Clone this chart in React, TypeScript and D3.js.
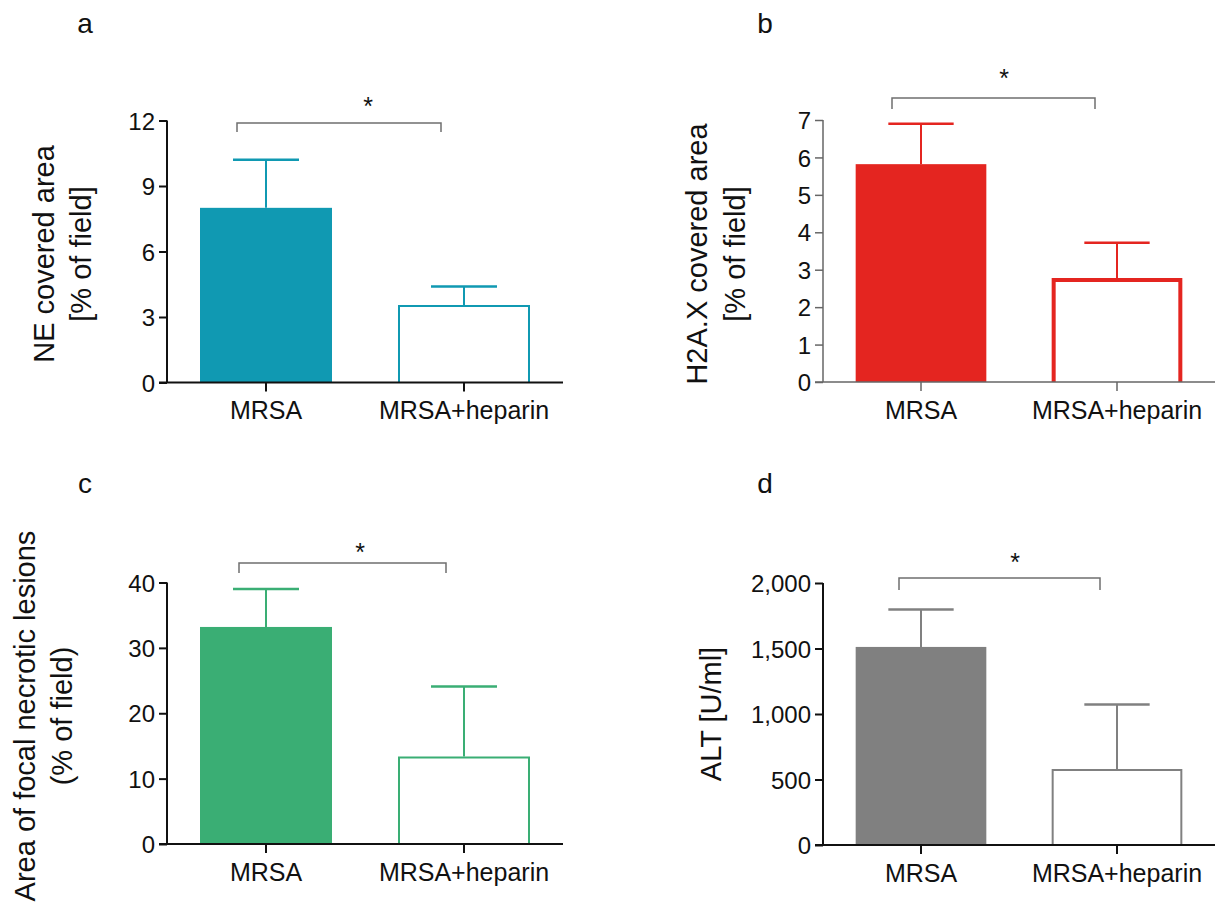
import React, { useEffect, useRef } from "react";
import * as d3 from "d3";

// groups
const categories = ["MRSA", "MRSA+heparin"];

// a: NE covered area
const neMean = [8.0, 3.55];
const neSem = [2.2, 0.85];
const neTicks = [0, 3, 6, 9, 12];

// b: H2A.X covered area
const h2axMean = [5.82, 2.78];
const h2axSem = [1.08, 0.94];
const h2axTicks = [0, 1, 2, 3, 4, 5, 6, 7];

// c: focal necrotic lesions
const necMean = [33.2, 13.4];
const necSem = [5.8, 10.7];
const necTicks = [0, 10, 20, 30, 40];

// d: ALT
const altMean = [1512, 580];
const altSem = [285, 493];
const altTicks = [0, 500, 1000, 1500, 2000];

const FONT = "'Liberation Sans', Arial, Helvetica, sans-serif";

const panels = [
  {
    key: "a", mean: neMean, sem: neSem, ticks: neTicks, fmt: d3.format("d"),
    color: "#1099b2", outline: 2, axisColor: "#111", axisWidth: 2,
    x0: 167, x1: 563, yTop: 120.5, yBot: 382.5,
    letter: [85, 33],
    labels: [{ t: "NE covered area", x: 44 }, { t: "[% of field]", x: 81 }], labelY: 254,
    bracket: { l: -29, r: -23, y: 123, drop: 9, starX: 368, starY: 101 },
  },
  {
    key: "b", mean: h2axMean, sem: h2axSem, ticks: h2axTicks, fmt: d3.format("d"),
    color: "#e42520", outline: 4, axisColor: "#666", axisWidth: 1.5,
    x0: 823, x1: 1215, yTop: 120, yBot: 382,
    letter: [765, 33],
    labels: [{ t: "H2A.X covered area", x: 697 }, { t: "[% of field]", x: 735 }], labelY: 254,
    bracket: { l: -29, r: -22, y: 98, drop: 11, starX: 1004, starY: 73 },
  },
  {
    key: "c", mean: necMean, sem: necSem, ticks: necTicks, fmt: d3.format("d"),
    color: "#3aae74", outline: 2, axisColor: "#111", axisWidth: 2,
    x0: 167, x1: 563, yTop: 582.5, yBot: 844,
    letter: [85, 493],
    labels: [{ t: "Area of focal necrotic lesions", x: 25 }, { t: "(% of field)", x: 62 }], labelY: 716,
    bracket: { l: -27, r: -18, y: 563, drop: 10, starX: 360, starY: 547 },
  },
  {
    key: "d", mean: altMean, sem: altSem, ticks: altTicks, fmt: d3.format(","),
    color: "#808080", outline: 2, axisColor: "#111", axisWidth: 2,
    x0: 823, x1: 1215, yTop: 583, yBot: 845,
    letter: [765, 493],
    labels: [{ t: "ALT [U/ml]", x: 711 }], labelY: 714,
    bracket: { l: -22, r: -17, y: 578, drop: 12, starX: 1015, starY: 557 },
  },
];

export default function App() {
  const ref = useRef<SVGSVGElement>(null);

  useEffect(() => {
    const svg = d3.select(ref.current);
    svg.selectAll("*").remove();

    panels.forEach((p) => {
      const g = svg.append("g");
      const x = d3.scaleBand().domain(categories).range([p.x0, p.x1])
        .paddingInner(1 / 3).paddingOuter(1 / 6);
      const y = d3.scaleLinear()
        .domain([0, p.ticks[p.ticks.length - 1]])
        .range([p.yBot, p.yTop]);
      const bw = x.bandwidth();

      // bars: first filled, second outlined
      categories.forEach((c, i) => {
        const top = y(p.mean[i]);
        const cx = x(c)! + bw / 2;
        const errTop = y(p.mean[i] + p.sem[i]);
        // whisker
        g.append("line")
          .attr("x1", cx).attr("x2", cx)
          .attr("y1", top).attr("y2", errTop)
          .attr("stroke", p.color).attr("stroke-width", 2);
        g.append("line")
          .attr("x1", cx - bw / 4).attr("x2", cx + bw / 4)
          .attr("y1", errTop).attr("y2", errTop)
          .attr("stroke", p.color).attr("stroke-width", 2.5);
        if (i === 0) {
          g.append("rect")
            .attr("x", x(c)!).attr("y", top)
            .attr("width", bw).attr("height", p.yBot - top)
            .attr("fill", p.color);
        } else {
          const h = p.outline / 2;
          g.append("path")
            .attr("d", `M${x(c)! + h},${p.yBot} V${top + h} H${x(c)! + bw - h} V${p.yBot}`)
            .attr("fill", "#fff")
            .attr("stroke", p.color)
            .attr("stroke-width", p.outline);
        }
      });

      // y axis
      const ya = g.append("g")
        .attr("transform", `translate(${p.x0},0)`)
        .call(d3.axisLeft(y).tickValues(p.ticks).tickFormat(p.fmt as any).tickSize(8).tickPadding(4));
      ya.select(".domain").attr("stroke", p.axisColor).attr("stroke-width", p.axisWidth)
        .attr("d", `M0,${p.yTop}V${p.yBot}`);
      ya.selectAll(".tick line").attr("stroke", p.axisColor).attr("stroke-width", p.axisWidth);
      ya.selectAll(".tick text")
        .attr("fill", "#111")
        .style("font-family", FONT)
        .style("font-size", "24px")
        .attr("dy", "0.36em");

      // x axis
      const xa = g.append("g")
        .attr("transform", `translate(0,${p.yBot})`)
        .call(d3.axisBottom(x).tickSize(9).tickPadding(10));
      xa.select(".domain").attr("stroke", p.axisColor).attr("stroke-width", p.axisWidth)
        .attr("d", `M${p.x0 - 8},0H${p.x1}`);
      xa.selectAll(".tick line").attr("stroke", p.axisColor).attr("stroke-width", p.axisWidth);
      xa.selectAll(".tick text")
        .attr("fill", "#111")
        .style("font-family", FONT)
        .style("font-size", "25px");

      // significance bracket
      const b = p.bracket;
      const bl = x(categories[0])! + bw / 2 + b.l;
      const br = x(categories[1])! + bw / 2 + b.r;
      g.append("path")
        .attr("d", `M${bl},${b.y + b.drop}V${b.y}H${br}V${b.y + b.drop}`)
        .attr("fill", "none")
        .attr("stroke", "#6f6f6f")
        .attr("stroke-width", 1.5);
      g.append("text")
        .attr("x", b.starX).attr("y", b.starY + 14)
        .attr("text-anchor", "middle")
        .style("font-family", FONT)
        .style("font-size", "25px")
        .attr("fill", "#111")
        .text("*");

      // y title
      p.labels.forEach((l) => {
        g.append("text")
          .attr("transform", `translate(${l.x},${p.labelY}) rotate(-90)`)
          .attr("text-anchor", "middle")
          .attr("dy", "0.35em")
          .style("font-family", FONT)
          .style("font-size", "29px")
          .attr("fill", "#111")
          .text(l.t);
      });

      // panel letter
      g.append("text")
        .attr("x", p.letter[0]).attr("y", p.letter[1])
        .attr("text-anchor", "middle")
        .style("font-family", FONT)
        .style("font-size", "28px")
        .attr("fill", "#111")
        .text(p.key);
    });
  }, []);

  return (
    <div style={{ position: "absolute", left: 0, top: 0, background: "#fff" }}>
      <svg ref={ref} width={1219} height={904} style={{ display: "block" }} />
    </div>
  );
}
